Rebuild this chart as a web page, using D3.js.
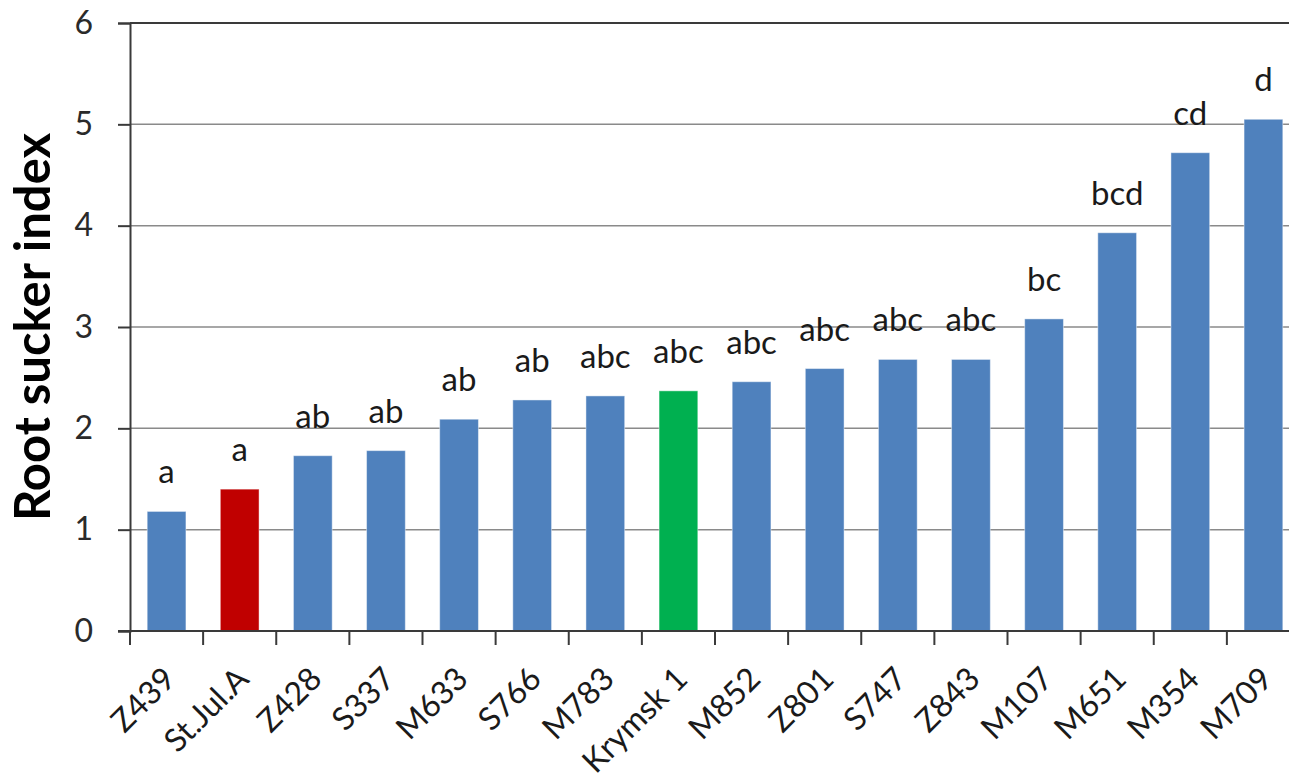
<!DOCTYPE html>
<html>
<head>
<meta charset="utf-8">
<script src="https://cdn.jsdelivr.net/npm/d3@7"></script>
<style>
  html, body { margin: 0; padding: 0; background: #ffffff; }
  svg { display: block; font-family: Lato, "Open Sans", sans-serif; }
</style>
</head>
<body>
<svg id="chart" width="1289" height="783"></svg>
<script>
// Rootstock genotypes, ordered by root sucker index
const categories = ["Z439", "St.Jul.A", "Z428", "S337", "M633", "S766", "M783", "Krymsk 1",
                    "M852", "Z801", "S747", "Z843", "M107", "M651", "M354", "M709"];
const values = [1.18, 1.40, 1.73, 1.78, 2.09, 2.28, 2.32, 2.37,
                2.46, 2.59, 2.68, 2.68, 3.08, 3.93, 4.72, 5.05];
// Significance groups (mean separation letters)
const letters = ["a", "a", "ab", "ab", "ab", "ab", "abc", "abc",
                 "abc", "abc", "abc", "abc", "bc", "bcd", "cd", "d"];
const yTicks = [0, 1, 2, 3, 4, 5, 6];
const highlight = { "St.Jul.A": "#C00000", "Krymsk 1": "#00B050" };
const baseColor = "#4F81BD";

const svg = d3.select("#chart");
const plotLeft = 130, plotRight = 1300, plotTop = 23, plotBottom = 631;

const x = d3.scaleBand().domain(categories).range([plotLeft, plotRight])
  .paddingInner(0.47).paddingOuter(0.235);
const y = d3.scaleLinear().domain([0, 6]).range([plotBottom, plotTop]);

// horizontal gridlines
svg.append("g").selectAll("line").data(yTicks.filter(t => t > 0)).join("line")
  .attr("x1", plotLeft).attr("x2", plotRight)
  .attr("y1", d => y(d)).attr("y2", d => y(d))
  .attr("stroke", d => d === 6 ? "#3a3a3a" : "#8a8a8a")
  .attr("stroke-width", d => d === 6 ? 2 : 1.5);

// bars
svg.append("g").selectAll("rect").data(categories).join("rect")
  .attr("x", d => x(d))
  .attr("y", (d, i) => y(values[i]))
  .attr("width", x.bandwidth())
  .attr("height", (d, i) => y(0) - y(values[i]))
  .attr("fill", d => highlight[d] || baseColor)
  .attr("stroke", "rgba(255,255,255,0.45)")
  .attr("stroke-width", 1);

// letters above bars
svg.append("g").selectAll("text").data(categories).join("text")
  .attr("x", d => x(d) + x.bandwidth() / 2)
  .attr("y", (d, i) => y(values[i]) - 28)
  .attr("text-anchor", "middle")
  .attr("font-size", 33)
  .attr("fill", "#1a1a1a")
  .text((d, i) => letters[i]);

// y axis
const yAxis = d3.axisLeft(y).tickValues(yTicks).tickSize(12).tickPadding(25)
  .tickFormat(d3.format("d"));
const gy = svg.append("g").attr("transform", `translate(${plotLeft},0)`).call(yAxis);
gy.select(".domain").attr("stroke", "#3a3a3a").attr("stroke-width", 2);
gy.selectAll(".tick line").attr("stroke", "#3a3a3a").attr("stroke-width", 2);
gy.selectAll(".tick text").attr("font-size", 32).attr("fill", "#2a2a2a")
  .attr("font-family", "Lato, 'Open Sans', sans-serif");

// x axis baseline and ticks at band boundaries
const step = x.step();
const boundaries = d3.range(categories.length + 1).map(i => plotLeft + i * step);
svg.append("line")
  .attr("x1", plotLeft - 12).attr("x2", plotRight)
  .attr("y1", plotBottom).attr("y2", plotBottom)
  .attr("stroke", "#3a3a3a").attr("stroke-width", 2);
svg.append("g").selectAll("line").data(boundaries).join("line")
  .attr("x1", d => d).attr("x2", d => d)
  .attr("y1", plotBottom).attr("y2", plotBottom + 14)
  .attr("stroke", "#3a3a3a").attr("stroke-width", 2);

// rotated category labels
svg.append("g").selectAll("text").data(categories).join("text")
  .attr("transform", d => `translate(${x(d) + x.bandwidth() / 2 + 3},${plotBottom + 42}) rotate(-45)`)
  .attr("text-anchor", "end")
  .attr("dy", "0.35em")
  .attr("font-size", 32)
  .attr("fill", "#1a1a1a")
  .text(d => d);

// y axis title
svg.append("text")
  .attr("transform", `translate(50,${(plotTop + plotBottom) / 2}) rotate(-90)`)
  .attr("text-anchor", "middle")
  .attr("font-size", 49)
  .attr("font-weight", "bold")
  .attr("fill", "#000")
  .text("Root sucker index");
</script>
</body>
</html>
